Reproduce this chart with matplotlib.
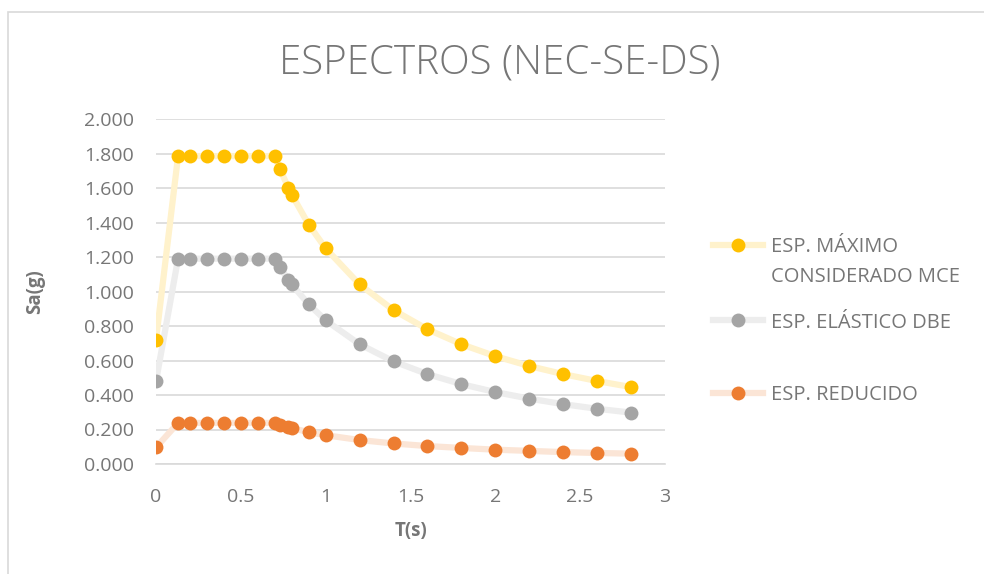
import numpy as np
import matplotlib.pyplot as plt
from matplotlib.lines import Line2D
from matplotlib.patches import Rectangle
from matplotlib.ticker import FormatStrFormatter

plt.rcParams['font.family'] = ['Open Sans', 'DejaVu Sans']

# periodos T(s)
periodo = [0, 0.13, 0.2, 0.3, 0.4, 0.5, 0.6, 0.7, 0.73, 0.78, 0.8, 0.9, 1.0,
           1.2, 1.4, 1.6, 1.8, 2.0, 2.2, 2.4, 2.6, 2.8]

# espectros Sa(g)
sa_mce = [0.720, 1.785, 1.785, 1.785, 1.785, 1.785, 1.785, 1.785, 1.710, 1.602,
          1.562, 1.388, 1.250, 1.041, 0.892, 0.781, 0.694, 0.625, 0.568, 0.521,
          0.481, 0.446]
sa_dbe = [0.480, 1.190, 1.190, 1.190, 1.190, 1.190, 1.190, 1.190, 1.141, 1.068,
          1.041, 0.926, 0.833, 0.694, 0.595, 0.521, 0.463, 0.417, 0.379, 0.347,
          0.320, 0.298]
sa_red = [0.096, 0.238, 0.238, 0.238, 0.238, 0.238, 0.238, 0.238, 0.228, 0.214,
          0.208, 0.185, 0.167, 0.139, 0.119, 0.104, 0.093, 0.083, 0.076, 0.069,
          0.064, 0.060]

nombres = [['ESP. MÁXIMO', 'CONSIDERADO MCE'], ['ESP. ELÁSTICO DBE'], ['ESP. REDUCIDO']]
col_punto = ['#FFC000', '#A5A5A5', '#ED7D31']
col_linea = ['#FFF2CC', '#EDEDED', '#FBE5D6']
gris = '#767676'

fig = plt.figure(figsize=(9.84, 5.74), dpi=100)
fig.patch.set_facecolor('white')
# marco del grafico
fig.add_artist(Rectangle((8/984, -0.05), 1.2, 1 - 12/574 + 0.05, transform=fig.transFigure,
                         fill=False, edgecolor='#D9D9D9', linewidth=1.2))

ax = fig.add_axes([156/984, 1 - 464/574, (665 - 156)/984, (464 - 119)/574])
ax.set_facecolor('none')

for sa, cp, cl in zip([sa_mce, sa_dbe, sa_red], col_punto, col_linea):
    ax.plot(periodo, sa, color=cl, lw=4.5, solid_capstyle='round', zorder=2)
    ax.plot(periodo, sa, 'o', color=cp, ms=10, mew=0, zorder=3)

ax.set_xlim(0, 3)
ax.set_ylim(0, 2.0)
ax.set_xticks(np.arange(0, 3.01, 0.5))
ax.set_xticklabels(['0', '0.5', '1', '1.5', '2', '2.5', '3'])
ax.set_yticks(np.arange(0, 2.001, 0.2))
ax.yaxis.set_major_formatter(FormatStrFormatter('%.3f'))
ax.grid(axis='y', color='#D9D9D9', lw=1.2)
ax.set_axisbelow(True)
for s in ['top', 'right', 'left']:
    ax.spines[s].set_visible(False)
ax.spines['bottom'].set_color('#D9D9D9')
ax.spines['bottom'].set_linewidth(1.2)
ax.tick_params(length=0, labelsize=14, colors=gris)
ax.tick_params(axis='x', pad=17)
ax.tick_params(axis='y', pad=16)

ax.set_xlabel('T(s)', fontsize=13.5, fontweight='bold', color=gris)
ax.set_ylabel('Sa(g)', fontsize=13.5, fontweight='bold', color=gris)
ax.xaxis.set_label_coords(0.5, (464 - 521) / 345)
ax.yaxis.set_label_coords((45 - 156) / 509, 0.5)

fig.text(500/984, 1 - 73/574, 'ESPECTROS (NEC-SE-DS)', ha='center', va='baseline',
         fontsize=29, color=gris, fontweight='light')

# leyenda
ley_y = [245, 320, 393]
for nom, cp, cl, yy in zip(nombres, col_punto, col_linea, ley_y):
    yf = 1 - yy/574
    fig.add_artist(Line2D([713/984, 763/984], [yf, yf], transform=fig.transFigure,
                          color=cl, lw=4.5))
    fig.add_artist(Line2D([738/984], [yf], transform=fig.transFigure, marker='o',
                          color=cp, ms=10, mew=0))
    for k, linea in enumerate(nom):
        fig.text(771/984, 1 - (yy + 29 * k)/574, linea, ha='left', va='center_baseline',
                 fontsize=14.5, color=gris)

fig.savefig('out.png', dpi=100)
